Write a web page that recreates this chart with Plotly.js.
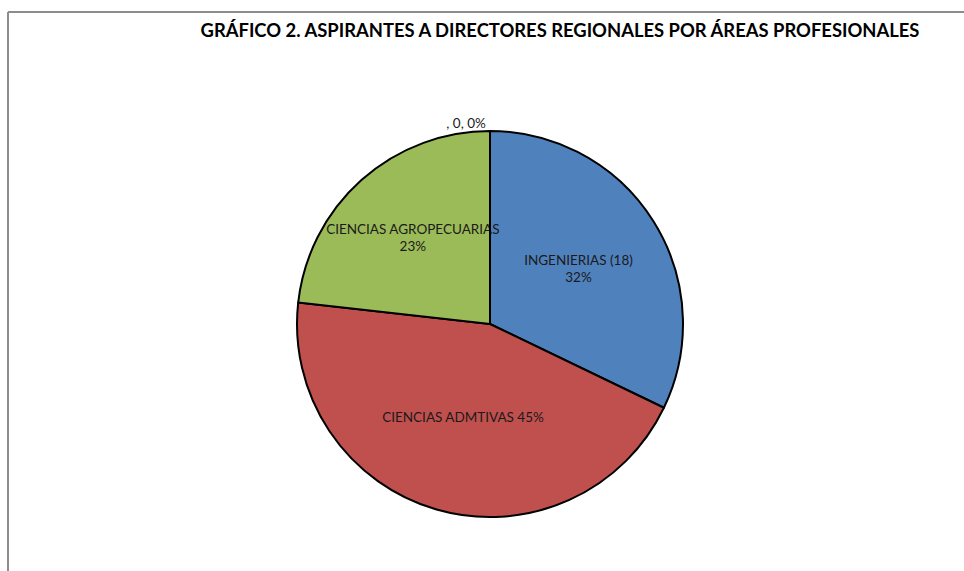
<!DOCTYPE html>
<html>
<head>
<meta charset="utf-8">
<script src="https://cdn.plot.ly/plotly-3.0.1.min.js"></script>
<style>html,body{margin:0;padding:0;background:#fff;}#chart{width:964px;height:571px;}</style>
</head>
<body>
<div id="chart"></div>
<script>
const categories = ["INGENIERIAS (18)", "CIENCIAS ADMTIVAS", "CIENCIAS AGROPECUARIAS", " "];
const counts = [18, 25, 13, 0];
const colors = ["#4F81BD", "#C0504D", "#9BBB59", "#F79646"];
const templates = ["%{label}<br>%{percent:.0%}", "%{label} %{percent:.0%}", "%{label}<br>%{percent:.0%}", ", %{value}, %{percent:.0%}"];
const positions = ["inside", "inside", "inside", "outside"];

const W = 964, H = 571;
const cx = 490, cy = 324, r = 193;

const trace = {
  type: "pie",
  labels: categories,
  values: counts,
  sort: false,
  direction: "clockwise",
  rotation: 0,
  marker: {colors: colors, line: {color: "#000", width: 2}},
  texttemplate: templates,
  textposition: positions,
  insidetextorientation: "horizontal",
  textfont: {family: "Lato, 'Open Sans', sans-serif", size: 13.5, color: "#1a1a1a"},
  hoverinfo: "none",
  showlegend: false,
  domain: {x: [(cx - r) / W, (cx + r) / W], y: [1 - (cy + r) / H, 1 - (cy - r) / H]}
};

const layout = {
  width: W, height: H,
  margin: {l: 0, r: 0, t: 0, b: 0},
  paper_bgcolor: "#fff",
  showlegend: false,
  uniformtext: {minsize: 13.5, mode: "show"},
  title: {
    text: "GRÁFICO 2. ASPIRANTES A DIRECTORES REGIONALES POR ÁREAS PROFESIONALES",
    font: {family: "Lato, 'Open Sans', sans-serif", size: 18.4, color: "#000", weight: "bold"},
    x: 560 / W, xanchor: "center", y: 1 - 31 / H, yanchor: "middle"
  },
  shapes: [
    {type: "line", xref: "paper", yref: "paper", x0: 8 / W, x1: 1.01, y0: 1 - 12 / H, y1: 1 - 12 / H, line: {color: "#8c8c8c", width: 2}},
    {type: "line", xref: "paper", yref: "paper", x0: 8 / W, x1: 8 / W, y0: 1 - 12 / H, y1: -0.01, line: {color: "#8c8c8c", width: 2}}
  ]
};

Plotly.newPlot("chart", [trace], layout, {displayModeBar: false, staticPlot: true});
</script>
</body>
</html>
